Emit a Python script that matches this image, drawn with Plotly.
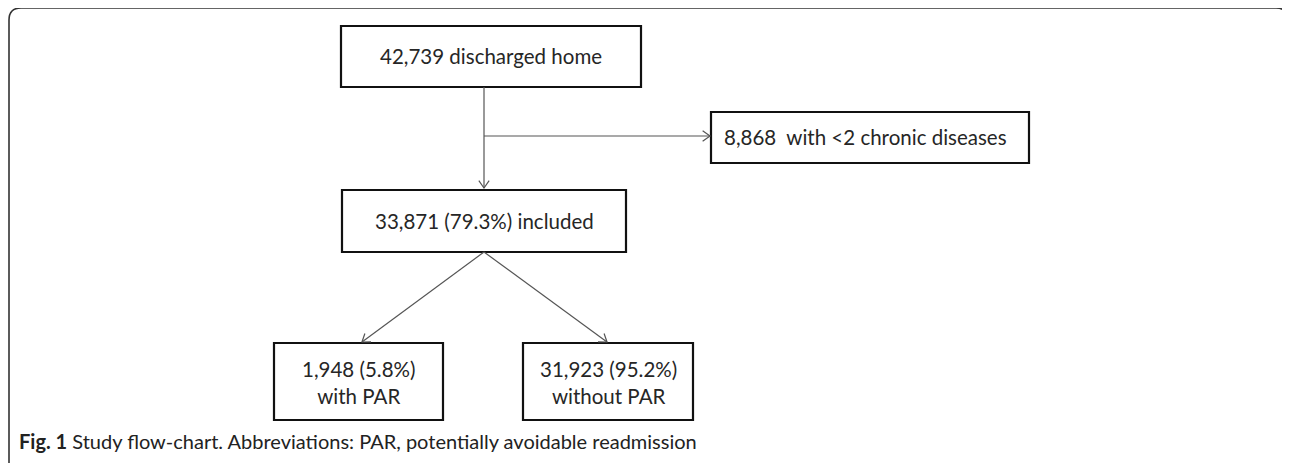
import math
import plotly.graph_objects as go

# ---- content ----
box_labels = [
    "42,739 discharged home",
    "8,868  with <2 chronic diseases",
    "33,871 (79.3%) included",
    "1,948 (5.8%)<br>with PAR",
    "31,923 (95.2%)<br>without PAR",
]
caption_bold = "Fig. 1"
caption_text = "Study flow-chart. Abbreviations: PAR, potentially avoidable readmission"

W, H = 1290, 463
OFF = 8  # page body margin: axis coordinates are page pixels
fig = go.Figure()

# box geometry (page pixels): x0, y0, x1, y1
boxes = [
    (341, 26, 641, 87),
    (711, 112, 1029, 163),
    (342, 190, 626, 252),
    (274, 343, 443, 420),
    (523, 343, 693, 420),
]
text_pos = [
    (491, 56, "center"),
    (722, 137, "left"),
    (484, 221, "center"),
    (358, 382, "center"),
    (608, 382, "center"),
]

shapes = []
r = 12
fx0, fy0, fx1, fy1 = 9, 8, 1288, 480
frame_path = (f"M {fx0},{fy1} L {fx0},{fy0+r} Q {fx0},{fy0} {fx0+r},{fy0} "
              f"L {fx1-r},{fy0} Q {fx1},{fy0} {fx1},{fy0+r} L {fx1},{fy1}")
shapes.append(dict(type="path", path=frame_path, line=dict(color="#333333", width=1.6),
                   xref="x", yref="y"))

for (x0, y0, x1, y1) in boxes:
    shapes.append(dict(type="rect", x0=x0, y0=y0, x1=x1, y1=y1, xref="x", yref="y",
                       line=dict(color="#111111", width=2.2), fillcolor="white"))

line_col = "#555555"
arrows = [
    ((484, 87), (484, 188)),
    ((484, 136), (710, 136)),
    ((484, 252), (362, 342)),
    ((484, 252), (607, 342)),
]
for (xa, ya), (xb, yb) in arrows:
    shapes.append(dict(type="line", x0=xa, y0=ya, x1=xb, y1=yb, xref="x", yref="y",
                       line=dict(color=line_col, width=1.2)))
    ang = math.atan2(yb - ya, xb - xa)
    L, a = 9, math.radians(35)
    p1 = (xb - L * math.cos(ang - a), yb - L * math.sin(ang - a))
    p2 = (xb - L * math.cos(ang + a), yb - L * math.sin(ang + a))
    shapes.append(dict(type="path",
                       path=f"M {p1[0]:.2f},{p1[1]:.2f} L {xb},{yb} L {p2[0]:.2f},{p2[1]:.2f}",
                       xref="x", yref="y", line=dict(color=line_col, width=1.2)))

annotations = []
for label, (tx, ty, anc) in zip(box_labels, text_pos):
    annotations.append(dict(x=tx, y=ty, xref="x", yref="y", text=label, showarrow=False,
                            xanchor=anc, yanchor="middle", align="center",
                            font=dict(family="Lato", size=20.5, color="#262626")))

annotations.append(dict(x=17, y=441, xref="x", yref="y",
                        text=f"<b>{caption_bold}</b> {caption_text}", showarrow=False,
                        xanchor="left", yanchor="middle",
                        font=dict(family="Lato", size=20, color="#222222")))

fig.update_layout(
    width=W, height=H, margin=dict(l=0, r=0, t=0, b=0),
    paper_bgcolor="white", plot_bgcolor="white",
    xaxis=dict(range=[OFF, W + OFF], visible=False, fixedrange=True),
    yaxis=dict(range=[H + OFF, OFF], visible=False, fixedrange=True),
    shapes=shapes, annotations=annotations, showlegend=False,
)
fig.write_html("out.html")
